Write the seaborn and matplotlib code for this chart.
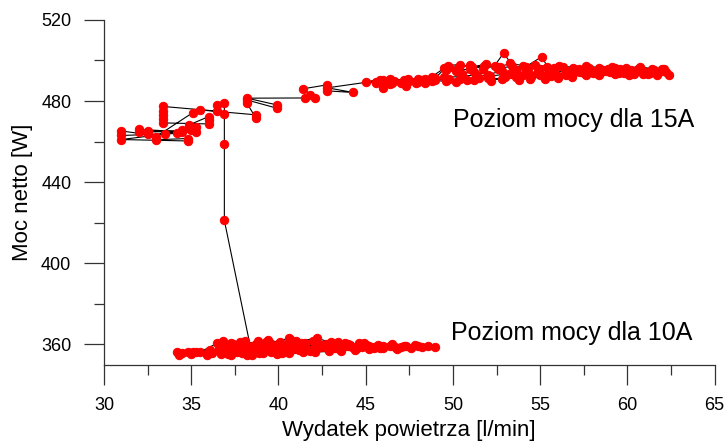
import numpy as np
import pandas as pd
import matplotlib
matplotlib.use('Agg')
import matplotlib.pyplot as plt
from matplotlib.ticker import MultipleLocator
import seaborn as sns

# Measured sequence: 10A plateau, transition, then 15A plateau
flow_10a = [34.2, 34.8, 35.1, 36.2, 36.6, 37.0, 37.5, 38.0, 38.6, 39.2, 39.8, 40.3, 40.9,
            41.5, 42.0, 42.6, 43.2, 43.9, 44.5, 45.2, 46.0, 46.7, 47.3, 48.2, 49.0,
            48.0, 47.0, 45.5, 44.0, 43.0, 42.2, 41.0, 40.6, 39.5, 38.8, 38.0, 37.3, 36.8,
            36.5, 35.5, 34.3,
            35.0, 36.0, 37.1, 37.6, 38.2, 38.9, 39.6, 40.2, 41.2, 41.8, 42.8, 43.5, 44.2,
            45.0, 45.8,
            44.8, 43.8, 42.5, 41.5, 40.5, 39.5, 38.5, 37.8, 37.2, 36.8,
            37.5, 38.3, 39.0, 39.9, 40.8, 41.6, 42.4, 43.3, 44.0, 45.5, 46.4,
            36.7, 37.4, 38.1, 38.7, 39.4, 40.1, 40.7, 41.3, 42.0, 42.7, 43.4, 44.1, 44.9,
            45.7, 46.5, 47.2, 47.8, 48.6,
            47.6, 46.8, 46.0, 45.2, 44.4, 43.6, 42.9, 42.1, 41.4, 40.6, 39.9, 39.1, 38.5,
            37.9, 37.3, 36.7, 35.9, 35.3, 34.5,
            36.1, 37.0, 37.8, 38.6, 39.3, 40.0, 40.8, 41.5, 42.3, 43.0, 43.8, 44.6,
            45.0, 43.0, 41.0, 40.0, 39.3, 38.4]
power_10a = [356.0, 356.3, 356.0, 355.7, 357.5, 356.2, 358.0, 357.0, 356.5, 358.5, 357.0, 359.5, 357.8,
             358.5, 357.5, 359.0, 358.2, 359.5, 358.0, 359.2, 359.0, 358.6, 359.3, 358.7, 358.5,
             359.2, 358.5, 358.8, 360.0, 361.0, 363.0, 361.5, 363.0, 360.5, 361.8, 359.0, 360.5, 361.5,
             360.6, 356.2, 355.0,
             355.2, 356.8, 355.3, 356.0, 354.8, 355.5, 356.3, 355.8, 357.0, 356.5, 358.0, 357.5, 358.5,
             359.5, 358.2,
             358.8, 360.5, 359.5, 360.8, 359.0, 359.8, 359.3, 361.0, 359.0, 358.0,
             357.8, 356.5, 357.5, 356.8, 358.0, 357.3, 358.8, 358.0, 359.0, 358.2, 359.4,
             359.0, 360.0, 361.5, 360.0, 362.0, 361.0, 362.2, 360.5, 361.8, 360.2, 361.0, 359.6, 360.5,
             359.5, 360.0, 359.2, 359.6, 359.0,
             358.3, 357.8, 358.0, 357.6, 357.2, 356.8, 356.5, 356.2, 356.0, 355.6, 355.2, 355.8, 355.0,
             355.6, 354.8, 355.4, 355.0, 356.4, 355.6,
             357.0, 358.2, 357.2, 359.0, 357.8, 359.4, 358.4, 360.0, 358.8, 360.2, 359.0, 360.6,
             359.8, 359.2, 358.5, 360.0, 361.2, 358.5]

flow_jump = [36.9, 36.9, 36.9, 36.9]
power_jump = [421.1, 459.0, 473.7, 479.2]

flow_15a = [36.5, 36.5, 33.4, 33.4, 33.4, 33.4, 33.4, 36.0, 36.0, 36.0, 34.9, 35.3, 35.3,
            32.0, 32.0, 35.0, 34.5, 32.5, 32.5, 31.0, 31.0, 34.2, 34.5, 33.5, 31.0, 34.8,
            34.8, 33.0, 33.0, 35.1, 35.5, 38.7, 38.7, 38.2, 38.2, 39.9, 39.9, 38.2, 41.5,
            41.8, 42.1, 41.4, 42.8, 42.8, 44.3, 42.8, 46.0, 46.0, 46.0, 47.0, 47.3, 47.9,
            48.4, 48.4, 49.0, 49.8, 50.2, 50.8,
            51.5, 52.2, 53.0, 53.8, 54.5, 55.3, 56.0, 56.8, 57.5, 58.3, 59.0, 59.8, 60.5,
            61.2, 61.8, 62.4,
            61.5, 60.8, 60.0, 59.3, 58.6, 57.8, 57.0, 56.3, 55.5, 55.1, 54.2, 53.6, 52.9,
            52.4, 51.7, 51.0, 50.3, 49.8, 49.6,
            50.5, 51.2, 52.0, 52.8, 53.5, 54.3, 55.0, 55.8, 56.5, 57.3, 58.0, 58.8, 59.5,
            60.2, 61.0, 61.6, 62.2,
            61.3, 60.4, 59.6, 58.5, 57.5, 56.7, 55.8, 55.0, 54.3, 53.4, 52.6, 51.8, 51.0,
            50.2, 49.5, 48.8, 48.0, 47.2, 46.4, 45.6,
            46.5, 47.5, 48.5, 49.5, 50.5, 51.3, 52.1, 53.2, 54.0, 54.8, 55.6, 56.4, 57.2,
            58.0, 58.9, 59.8, 60.6, 61.4, 62.0,
            61.7, 60.9, 60.1, 59.3, 58.4, 57.6, 56.8, 56.0, 55.2, 54.4, 53.6, 52.8, 52.0,
            51.2, 50.4, 49.6, 48.8, 48.0, 47.2, 46.4, 45.6, 45.0,
            45.8, 46.6, 47.4, 48.2, 49.0, 49.7, 50.4, 51.1, 51.9, 52.7, 53.3, 54.0, 54.7,
            55.4, 56.1, 56.9, 57.6, 58.4, 59.1, 59.9, 60.7, 61.4, 62.1]
power_15a = [478.1, 475.0, 477.3, 475.0, 473.0, 471.0, 469.2, 468.7, 470.5, 472.3, 468.3, 467.0, 464.5,
             466.0, 464.5, 465.5, 464.5, 465.2, 463.5, 465.2, 463.0, 464.0, 465.5, 463.7, 461.0, 460.3,
             461.5, 460.9, 462.5, 474.3, 475.6, 473.2, 471.6, 478.9, 480.5, 476.5, 478.1, 481.4, 481.5,
             483.0, 481.6, 486.0, 488.0, 485.0, 484.2, 486.5, 490.4, 488.0, 486.3, 489.0, 487.5, 488.8,
             491.0, 489.0, 490.4, 491.0, 489.5, 490.4,
             491.5, 490.0, 491.8, 490.5, 492.0, 491.0, 492.5, 493.5, 494.0, 493.2, 494.5, 493.8, 494.8,
             493.5, 494.2, 493.0,
             495.5, 496.0, 495.2, 496.3, 495.4, 496.5, 495.0, 496.8, 495.5, 501.9, 497.0, 495.5, 503.6,
             497.5, 496.0, 497.8, 496.5, 497.0, 495.5,
             493.5, 494.5, 493.0, 494.8, 493.2, 494.2, 493.0, 494.0, 493.0, 494.5, 493.8, 495.0, 494.0,
             495.5, 494.5, 495.0, 494.5,
             494.0, 493.5, 495.8, 494.3, 495.5, 494.8, 496.5, 495.8, 496.5, 497.2, 496.0, 497.5, 496.0,
             494.8, 496.2, 492.0, 491.0, 490.5, 490.8, 489.5,
             489.0, 490.0, 490.5, 491.8, 492.0, 493.0, 492.2, 493.5, 492.8, 493.8, 492.5, 495.5, 496.0,
             494.8, 496.0, 495.0, 496.0, 494.5, 495.8,
             493.0, 493.3, 492.8, 493.5, 492.6, 493.0, 492.0, 491.5, 492.2, 491.0, 491.8, 490.8, 491.4,
             490.2, 490.8, 489.8, 490.0, 489.2, 489.0, 488.4, 488.8, 489.5,
             490.5, 489.8, 491.0, 490.2, 491.4, 497.5, 498.0, 496.8, 498.2, 497.0, 498.5, 497.5, 498.0,
             497.0, 497.5, 496.5, 497.2, 496.5, 497.0, 496.4, 496.8, 496.0, 495.6]

x_ticks = [30, 35, 40, 45, 50, 55, 60, 65]
y_ticks = [360, 400, 440, 480, 520]

df = pd.DataFrame({
    'flow': flow_10a + flow_jump + flow_15a,
    'power': power_10a + power_jump + power_15a,
})
df['step'] = np.arange(len(df))

sns.set_theme(style='ticks')
plt.rcParams['font.family'] = ['Liberation Sans', 'DejaVu Sans']
plt.rcParams['text.color'] = 'black'
plt.rcParams['axes.labelcolor'] = 'black'
plt.rcParams['xtick.labelcolor'] = 'black'
plt.rcParams['ytick.labelcolor'] = 'black'

fig, ax = plt.subplots(figsize=(7.27, 4.42), dpi=100)
fig.subplots_adjust(left=0.143, right=0.983, bottom=0.175, top=0.955)

sns.lineplot(data=df, x='flow', y='power', sort=False, estimator=None, ax=ax,
             color='black', linewidth=0.8, marker='o', markersize=6,
             markerfacecolor='red', markeredgecolor='red')

ax.set_xlim(30, 65)
ax.set_ylim(350, 520)
ax.set_xticks(x_ticks)
ax.set_yticks(y_ticks)
ax.xaxis.set_minor_locator(MultipleLocator(2.5))
ax.yaxis.set_minor_locator(MultipleLocator(20))
ax.tick_params(which='major', length=14.5, width=0.9, color='#333333', labelsize=13, pad=9)
ax.tick_params(which='minor', length=7.2, width=0.9, color='#333333')
for side in ['top', 'right']:
    ax.spines[side].set_visible(False)
for side in ['left', 'bottom']:
    ax.spines[side].set_color('#333333')
    ax.spines[side].set_linewidth(0.9)

ax.set_xlabel('Wydatek powietrza [l/min]', fontsize=16, labelpad=4)
ax.set_ylabel('Moc netto [W]', fontsize=16, labelpad=6)

ax.text(50, 470.7, 'Poziom mocy dla 15A', fontsize=18, ha='left', va='center')
ax.text(49.9, 365.7, 'Poziom mocy dla 10A', fontsize=18, ha='left', va='center')

fig.savefig('out.png', dpi=100, facecolor='white')
